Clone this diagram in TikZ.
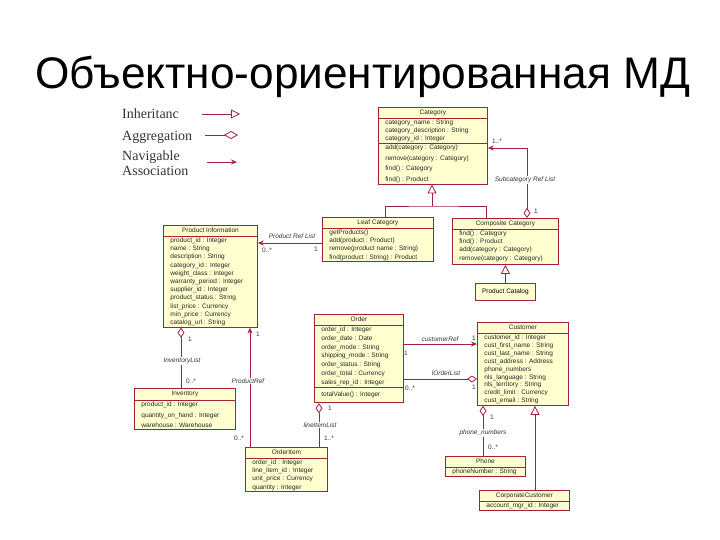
\documentclass[tikz,border=0pt]{standalone}
\usepackage{fontspec}
\setmainfont{Liberation Sans}
\newfontfamily\legfont{Liberation Serif}
\usetikzlibrary{arrows.meta,shapes.multipart,calc}
\definecolor{umlrod}{RGB}{165,32,58}
\definecolor{umlgul}{RGB}{255,255,208}

\begin{document}
\begin{tikzpicture}[x=1pt,y=-1pt,
  klasse/.style={rectangle split, rectangle split parts=3, draw=umlrod, fill=umlgul,
    line width=0.8pt, anchor=north west, align=left,
    rectangle split part align={center,left,left},
    font=\fontsize{6.5}{8.2}\selectfont, text=black!85, inner xsep=7pt, inner ysep=1pt},
  klasse2/.style={klasse, rectangle split parts=2, rectangle split part align={center,left}},
  boks/.style={draw=umlrod, fill=umlgul, line width=0.8pt, anchor=north west,
    font=\fontsize{6.5}{8.2}\selectfont, inner sep=1pt},
  linje/.style={umlrod, line width=0.8pt},
  arv/.style={linje, -{Triangle[open,length=9pt,width=9pt]}},
  agg/.style={linje, {Diamond[open,length=10pt,width=7pt]}-},
  nav/.style={linje, -{Stealth[length=6pt,width=5pt]}},
  aggnav/.style={linje, {Diamond[open,length=10pt,width=7pt]}-{Stealth[length=6pt,width=5pt]}},
  rolle/.style={font=\itshape\fontsize{6.5}{7}\selectfont, fill=white, inner sep=1pt, text=black!80},
  mult/.style={font=\fontsize{6.5}{7}\selectfont, inner sep=0.5pt, text=black!80},
  leg/.style={font=\legfont\fontsize{14}{15}\selectfont, anchor=west, align=left, inner sep=0pt, text=black!80}]

  \useasboundingbox (0,0) rectangle (720,540);

  % tittel
  \node[anchor=base west, inner sep=0pt, font=\fontsize{44.2}{50}\selectfont] (tittel) at (35,89)
        {Объектно-ориентированная МД};

  % forklaring
  \node[leg] (legarv) at (122,114) {Inheritanc};
  \node[leg] (legagg) at (122,137) {Aggregation};
  \node[leg] (legnav) at (122,163) {Navigable\\Association};
  \draw[arv] (202,114) -- (240,114);
  \draw[linje, -{Diamond[open,length=14pt,width=8pt]}] (205,135) -- (238,135);
  \draw[linje, -{Stealth[length=6pt,width=5pt]}] (207,162) -- (237,162);

  % klasser
  \node[klasse, minimum width=109pt] (category) at (378,107)
    {\strut Category
     \nodepart{second} category\_name : String\\category\_description : String\\category\_id : Integer
     \nodepart{third} add(category : Category)\\[2.3pt]remove(category : Category)\\[2.3pt]find() : Category\\[2.3pt]find() : Product};

  \node[klasse2, minimum width=111pt] (leaf) at (322,217)
    {\strut Leaf Category
     \nodepart{second} getProducts()\\add(product : Product)\\remove(product name : String)\\find(product : String) : Product};

  \node[klasse2, minimum width=106pt] (comp) at (452,218)
    {\strut Composite Category
     \nodepart{second} find() : Category\\find() : Product\\add(category : Category)\\[0.5pt]remove(category : Category)\rule[-2.5pt]{0pt}{0pt}};

  \node[boks, minimum width=60pt, minimum height=17pt] (catalog) at (475,283) {Product Catalog};

  \node[klasse2, minimum width=94pt] (pinfo) at (163,225)
    {\strut Product Information
     \nodepart{second} product\_id : Integer\\name : String\\description : String\\category\_id : Integer\\weight\_class : Integer\\warranty\_period : Integer\\supplier\_id : Integer\\product\_status : String\\list\_price : Currency\\min\_price : Currency\\catalog\_url : String};

  \node[klasse2, minimum width=101pt] (inventory) at (134,388)
    {\rule[-3pt]{0pt}{9pt}Inventory
     \nodepart{second} product\_id : Integer\\[2.5pt]quantity\_on\_hand : Integer\\[2.5pt]warehouse : Warehouse};

  \node[klasse, minimum width=89pt] (order) at (314,314)
    {\strut Order
     \nodepart{second} order\_id : Integer\\[0.6pt]order\_date : Date\\[0.6pt]order\_mode : String\\[0.6pt]shipping\_mode : String\\[0.6pt]order\_status : String\\[0.6pt]order\_total : Currency\\[0.6pt]sales\_rep\_id : Integer
     \nodepart{third} \rule[-5pt]{0pt}{13pt}totalValue() : Integer};

  \node[klasse2, minimum width=82pt] (orderitem) at (245,447)
    {\strut OrderItem
     \nodepart{second} order\_id : Integer\\line\_item\_id : Integer\\unit\_price : Currency\\quantity : Integer};

  \node[klasse2, minimum width=91pt] (customer) at (477,322)
    {\strut Customer
     \nodepart{second} customer\_id : Integer\\[-0.3pt]cust\_first\_name : String\\[-0.3pt]cust\_last\_name : String\\[-0.3pt]cust\_address : Address\\[-0.3pt]phone\_numbers\\[-0.3pt]nls\_language : String\\[-0.3pt]nls\_territory : String\\[-0.3pt]credit\_limit : Currency\\[-0.3pt]cust\_email : String};

  \node[klasse2, minimum width=80pt] (phone) at (445,456)
    {\strut Phone \nodepart{second} phoneNumber : String};

  \node[klasse2, minimum width=90pt] (corp) at (479,490)
    {\strut CorporateCustomer \nodepart{second} account\_mgr\_id : Integer};

  % arv
  \coordinate (arvknekk) at (432,206);
  \draw[linje] (leaf.north -| 385,0) |- (arvknekk) -| (comp.north -| 486,0);
  \draw[arv] (arvknekk) -- (category.south -| arvknekk);
  \draw[arv] (catalog.north) -- (comp.south -| catalog.north);
  \draw[arv] (corp.north -| 535,0) -- (customer.south -| 535,0);

  % aggregering
  \draw[aggnav] (comp.north -| 527,0) -- (527,148) -- (category.east |- 0,148);
  \draw[agg] (pinfo.south -| 181,0) -- (inventory.north -| 181,0);
  \draw[agg] (order.south -| 319,0) -- (orderitem.north -| 319,0);
  \draw[agg] (customer.west |- 0,379) -- (order.east |- 0,379);
  \draw[agg] (customer.south -| 483,0) -- (phone.north -| 483,0);

  % navigerbar assosiasjon
  \draw[nav] (leaf.west |- 0,243) -- (pinfo.east |- 0,243);
  \draw[nav] (orderitem.north -| 250,0) -- (pinfo.south -| 250,0);
  \draw[nav] (order.east |- 0,344) -- (customer.west |- 0,344);

  % roller
  \node[rolle] (rsub) at (525,180) {Subcategory Ref List};
  \node[rolle, fill=none] (rpref) at (292,236) {Product Ref List};
  \node[rolle] (rinv) at (182,361) {InventoryList};
  \node[rolle] (rprod) at (248,381) {ProductRef};
  \node[rolle] (rline) at (320,425) {lineItemList};
  \node[rolle, fill=none] (rcust) at (440,339) {customerRef};
  \node[rolle, fill=none] (rlist) at (446,373) {lOrderList};
  \node[rolle] (rphone) at (483,433) {phone\_numbers};

  % multiplisitet
  \node[mult] (m1) at (497,141) {1..*};
  \node[mult] (m2) at (536,211) {1};
  \node[mult] (m3) at (267,250) {0..*};
  \node[mult] (m4) at (316,249) {1};
  \node[mult] (m5) at (190,339) {1};
  \node[mult] (m6) at (191,381) {0..*};
  \node[mult] (m7) at (258,334) {1};
  \node[mult] (m8) at (239,438) {0..*};
  \node[mult] (m9) at (330,408) {1};
  \node[mult] (m10) at (329,438) {1..*};
  \node[mult] (m11) at (406,353) {1};
  \node[mult] (m12) at (474,338) {1};
  \node[mult] (m13) at (410,388) {0..*};
  \node[mult] (m14) at (474,387) {1};
  \node[mult] (m15) at (492,417) {1};
  \node[mult] (m16) at (493,447) {0..*};
\end{tikzpicture}
\end{document}
